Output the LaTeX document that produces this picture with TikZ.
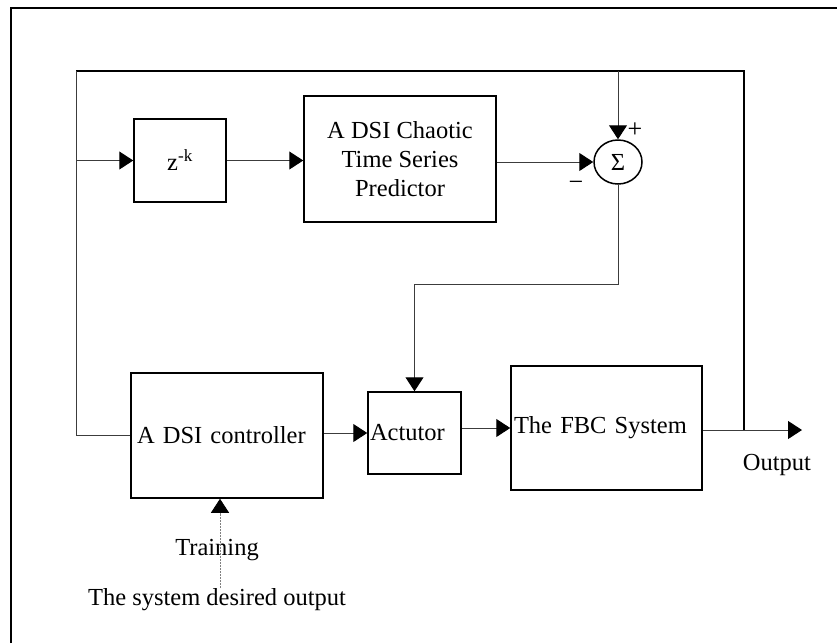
\documentclass[tikz,border=0pt]{standalone}
\usepackage{fontspec}
\setmainfont{Liberation Serif}
\usetikzlibrary{arrows.meta,shapes.geometric}
\begin{document}
\begin{tikzpicture}[x=1pt, y=-1pt,
    every node/.style={font=\fontsize{24.5}{29}\selectfont},
    blk/.style={draw, line width=1.5pt, inner sep=3pt},
    conn/.style={draw=linecol, line width=1pt},
    tip/.style={-{Triangle[length=14pt,width=18pt,color=black]}}]
        \definecolor{linecol}{RGB}{60,60,60}
        \useasboundingbox (0,0) rectangle (837,643);
        \draw[line width=2.5pt] (11,643) -- (11,8) -- (837,8);
        % blocks
        \node[blk, minimum width=92pt, minimum height=83pt] (delay) at (180,160.5) {z\textsuperscript{-k}};
        \node[blk, minimum width=192pt, minimum height=126pt, align=center] (pred) at (400,159)
          {A DSI Chaotic\\ Time Series\\Predictor};
        \node[draw, line width=1.5pt, ellipse, minimum width=48pt, minimum height=44pt, inner sep=0pt] (sum) at (618,162) {Σ};
        \node[blk, minimum height=125pt, text width=180pt, align=left, inner sep=6pt] (ctrl) at (227,435.5) {A DSI controller};
        \node[blk, minimum height=82pt, text width=89pt, align=left, inner sep=2pt] (act) at (414.5,433) {Actutor};
        \node[blk, minimum height=124pt, text width=185pt, align=left, inner sep=3pt] (fbc) at (606.5,428) {The FBC System};
        \node (plus) at (635,130) {\fontsize{26}{30}\selectfont +};
        \node (minus) at (576,186) {\fontsize{26}{30}\selectfont −};
        \node (outlbl) at (777,465) {Output};
        \node (trainlbl) at (217,550) {Training};
        \node (desired) at (217,600) {The system desired output};
        \coordinate (topl) at (76,71);
        \coordinate (topr) at (744,71);
        \coordinate (split) at (744,430);
        \coordinate (outend) at (802,430);
        \coordinate (trainsrc) at (220,588);
        % connectors
        \draw[line width=1.5pt] (split) -- (topr) -- (topl);
        \draw[conn] (topl) -- (topl |- ctrl.west) -- (ctrl.west);
        \draw[conn, tip] (topl |- delay.west) -- (delay.west);
        \draw[conn, tip] (delay.east) -- (delay.east -| pred.west);
        \draw[conn, tip] (pred.east |- sum.west) -- (sum.west);
        \draw[conn, tip] (sum |- topl) -- (sum.north);
        \draw[conn, tip] (sum.south) -- (sum.south |- 0,284) -| (act.north);
        \draw[conn, tip] (ctrl.east |- act.west) -- (act.west);
        \draw[conn, tip] (act.east |- fbc.west) -- (fbc.west);
        \draw[conn, tip] (fbc.east |- outend) -- (outend);
        \draw[draw=gray, line width=0.8pt, dash pattern=on 2pt off 1pt, tip] (trainsrc) -- (trainsrc |- ctrl.south);
      \end{tikzpicture}
\end{document}
